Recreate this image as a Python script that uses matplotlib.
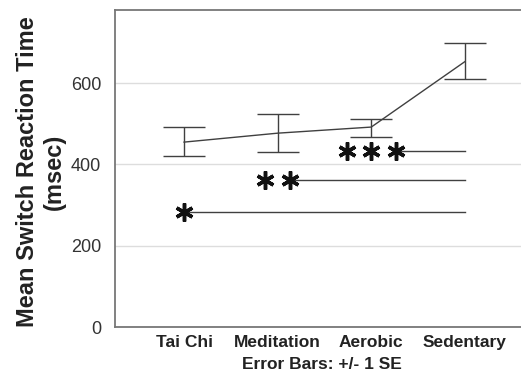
import numpy as np
import matplotlib.pyplot as plt

plt.rcParams['font.family'] = ['Liberation Sans', 'DejaVu Sans']

# group means and +/- 1 SE bounds (msec)
groups = ['Tai Chi', 'Meditation', 'Aerobic', 'Sedentary']
means = [455, 477, 492, 653]
upper = [491, 523, 513, 700]
lower = [421, 431, 467, 610]

# significance comparisons against Sedentary: (group index, stars, level)
sig_from = [0, 1, 2]
sig_stars = [1, 2, 3]
sig_level = [282, 362, 434]

x = np.arange(len(groups))
err = [np.array(means) - np.array(lower), np.array(upper) - np.array(means)]

fig = plt.figure(figsize=(5.21, 3.76), dpi=100)
ax = fig.add_axes([0.2207, 0.1303, 0.7793, 0.843])

ink = '#404040'
ax.errorbar(x, means, yerr=err, color=ink, lw=1.0, capsize=15, capthick=1.0,
            elinewidth=1.0)

# significance lines with asterisks at their left end
for g, n, lvl in zip(sig_from, sig_stars, sig_level):
    offs = (np.arange(n) - (n - 1) / 2) * 0.26
    sx = g + offs
    ax.plot([sx[-1], x[-1]], [lvl, lvl], color=ink, lw=1.0, zorder=2)
    ax.plot(sx, [lvl] * n, ls='none', marker=(6, 2, 0), ms=13, mew=2.5,
            color='#111111', zorder=3)

ax.set_xlim(-0.738, 3.6)
ax.set_ylim(0, 780)
ax.set_yticks([0, 200, 400, 600])
ax.set_xticks(x)
ax.set_xticklabels(groups, fontsize=12.5, fontweight='bold', color='#222222')
ax.tick_params(axis='y', labelsize=13, labelcolor='#333333', length=0, pad=10)
ax.tick_params(axis='x', length=0, pad=6)
ax.grid(axis='y', color='#dddddd', lw=1.0)
ax.set_axisbelow(True)

for s in ['left', 'bottom', 'top']:
    ax.spines[s].set_color('#777777')
    ax.spines[s].set_linewidth(1.3)
ax.spines['right'].set_visible(False)

ax.set_xlabel('Error Bars: +/- 1 SE', fontsize=12.5, fontweight='bold',
              color='#222222')
ax.xaxis.set_label_coords(0.51, -0.095)
ax.set_ylabel('Mean Switch Reaction Time\n(msec)', fontsize=17,
              fontweight='bold', color='#222222', linespacing=1.25)
ax.yaxis.set_label_coords(-0.12, 0.49)

fig.savefig('out.png', dpi=100)
